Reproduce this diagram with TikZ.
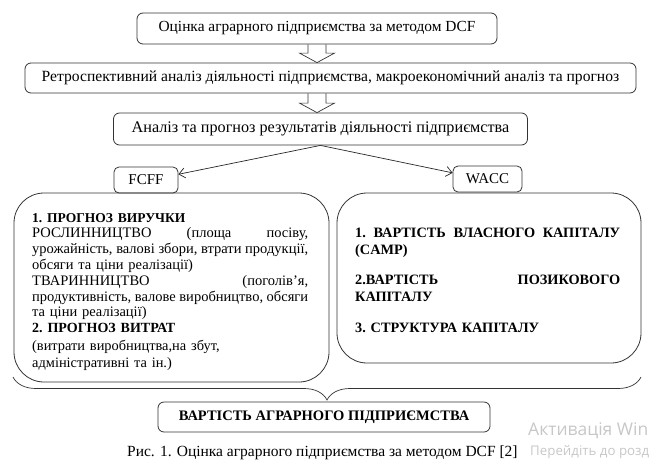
\documentclass[tikz,border=0pt]{standalone}
\usepackage{fontspec}
\setmainfont{Liberation Serif}
\newfontfamily\winfont{Open Sans}
\usetikzlibrary{arrows.meta,decorations.pathreplacing,calc}

% hollow block arrow under the top box, from #1 down to #2
\newcommand{\blockarrow}[2]{%
  \draw[blockarr] let \p0=(dcf.south), \p1=(#1.south), \p2=(#2.north) in
    (\x0-9pt,\y1) -- (\x0-9pt,\y2+9.5pt) -- (\x0-17.5pt,\y2+9.5pt) -- (\x0,\y2)
    -- (\x0+17.5pt,\y2+9.5pt) -- (\x0+9pt,\y2+9.5pt) -- (\x0+9pt,\y1);}
% justified line of a given width
\newcommand{\spread}[2]{\leavevmode\hbox to #1{\spaceskip=0.25em plus 1fil\relax #2}}

\begin{document}
\begin{tikzpicture}[x=1pt,y=-1pt,
    box/.style={draw=black!80, line width=0.8pt, rounded corners=6pt, inner sep=0pt, align=center},
    bigbox/.style={draw=black!80, line width=0.8pt, rounded corners=30pt, inner sep=0pt},
    blockarr/.style={draw=black!80, line width=0.7pt},
    flow/.style={draw=black!85, line width=0.7pt, -{Straight Barb[length=6pt,width=10pt]}},
    bracket/.style={draw=black!80, line width=0.7pt, decorate, decoration={brace, amplitude=23pt}},
    overlay text/.style={anchor=base west, inner sep=0pt, text=black!22}]
    \clip (0,0) rectangle (650,469);

    % --- top chain of steps ---
    \node[box, minimum width=360pt, minimum height=31pt, font=\fontsize{15.4}{18}\selectfont]
        (dcf) at (317,28.5) {Оцінка аграрного підприємства за методом DCF};
    \node[box, minimum width=611pt, minimum height=30pt, font=\fontsize{15.6}{18}\selectfont]
        (retro) at (330.5,78) {Ретроспективний аналіз діяльності підприємства, макроекономічний аналіз та прогноз};
    \node[box, minimum width=414pt, minimum height=32pt, font=\fontsize{16.2}{18}\selectfont]
        (analysis) at (320.5,129) {Аналіз та прогноз результатів діяльності підприємства};

    \blockarrow{dcf}{retro}
    \blockarrow{retro}{analysis}

    % --- the two branches ---
    \node[bigbox, minimum width=315pt, minimum height=189pt] (fcffbox) at (171.5,287.5) {};
    \node[bigbox, minimum width=304pt, minimum height=170pt] (waccbox) at (489,278) {};

    \node[box, rounded corners=5pt, minimum width=64pt, minimum height=26pt, font=\fontsize{15}{17}\selectfont]
        (fcff) at (146,180) {FCFF};
    \node[box, rounded corners=5pt, minimum width=69pt, minimum height=26pt, font=\fontsize{15}{17}\selectfont]
        (wacc) at (487.5,179) {WACC};

    \draw[flow] (analysis.south) -- (fcff.10);
    \draw[flow] (analysis.south) -- (wacc.170);

    % left box text
    \node[anchor=base west, inner sep=0pt, text width=276pt, align=left, font=\frenchspacing\fontsize{14.5}{15.8}\selectfont]
        (revtext) at (32,222) {{\bfseries\fontsize{13.5}{15.8}\selectfont 1. ПРОГНОЗ ВИРУЧКИ}\\
        \spread{276pt}{РОСЛИННИЦТВО\hfill(площа\hfill посіву,}\\
        \spread{276pt}{урожайність, валові збори, втрати продукції,}\\
        обсяги та ціни реалізації)\\
        \spread{276pt}{ТВАРИННИЦТВО\hfill(поголів’я,}\\
        \spread{276pt}{продуктивність, валове виробництво, обсяги}\\
        та ціни реалізації)\\
        {\bfseries\fontsize{14}{15.8}\selectfont 2. ПРОГНОЗ ВИТРАТ}};
    \node[anchor=base west, inner sep=0pt, text width=276pt, align=left, font=\frenchspacing\fontsize{14.4}{17}\selectfont]
        (costtext) at (32,350) {(витрати виробництва,на збут,\\
        адміністративні та ін.)};

    % right box text
    \node[anchor=base west, inner sep=0pt, text width=265pt, align=left, font=\frenchspacing\bfseries\fontsize{14.3}{17}\selectfont]
        (waccitems) at (355,237) {\spread{265pt}{1. ВАРТІСТЬ ВЛАСНОГО КАПІТАЛУ}\\
        (CAMP)\\[13pt]
        \spread{265pt}{2.ВАРТІСТЬ\hfill ПОЗИКОВОГО}\\
        КАПІТАЛУ\\[14pt]
        3. СТРУКТУРА КАПІТАЛУ};

    % --- brace and result ---
    \coordinate (bl) at (13,377);
    \coordinate (br) at (641,377);
    \draw[bracket] (br) -- (bl);

    \node[box, minimum width=332pt, minimum height=30pt, font=\bfseries\fontsize{14.5}{17}\selectfont]
        (value) at (324,417) {ВАРТІСТЬ АГРАРНОГО ПІДПРИЄМСТВА};

    \node[anchor=base west, inner sep=0pt, font=\fontsize{15.5}{18}\selectfont]
        (caption) at (127,456) {Рис. 1. Оцінка аграрного підприємства за методом DCF [2]};

    % activation overlay
    \node[overlay text, font=\winfont\fontsize{17.5}{19}\selectfont]
        (actv) at (528,435) {Активація Win};
    \node[overlay text, font=\winfont\fontsize{13.3}{15}\selectfont]
        (gosettings) at (530,455) {Перейдіть до розд};
\end{tikzpicture}
\end{document}
